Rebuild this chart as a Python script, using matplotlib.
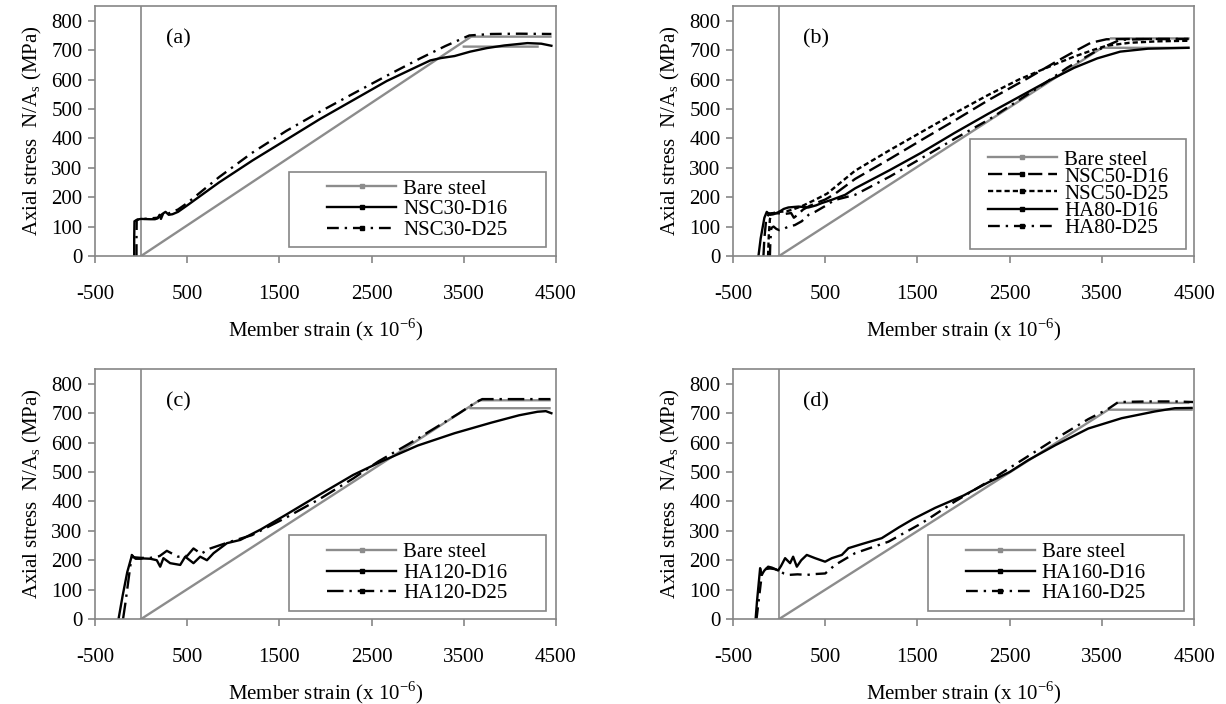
import numpy as np
import matplotlib
matplotlib.use("Agg")
import matplotlib.pyplot as plt
from matplotlib.lines import Line2D
from matplotlib.patches import Rectangle

# ─────────────────────────────────────────────
# data  (strain x 10^-6, axial stress MPa)
# ─────────────────────────────────────────────
nan = np.nan

# (a)
bare_a_x = [0, 3580, 4440, nan, 3500, 4300]
bare_a_y = [0, 746, 746, nan, 712, 712]
nsc30_d16_x = [-75, -75, -72, -40, 0, 100, 150, 180, 200, 215, 240, 265, 300, 340, 400, 500,
               845, 1209, 1573, 1936, 2300, 2664, 3000, 3136, 3250, 3400, 3570, 3750, 3940,
               4190, 4340, 4450]
nsc30_d16_y = [0, 60, 118, 124, 126, 125, 125, 128, 140, 126, 145, 150, 140, 142, 150, 172,
               250, 325, 395, 465, 530, 595, 645, 665, 673, 680, 695, 707, 716,
               724, 722, 715]
nsc30_d25_x = [-50, -50, -48, 0, 100, 180, 220, 260, 300, 400, 500, 845, 1200, 1573, 1936,
               2300, 2664, 3027, 3300, 3560, 3800, 4100, 4450]
nsc30_d25_y = [0, 60, 122, 125, 128, 130, 140, 150, 145, 158, 180, 268, 350, 425, 490,
               552, 613, 672, 714, 750, 755, 756, 755]

# (b)
bare_b_x = [0, 3500, 4440, nan, 3600, 4440]
bare_b_y = [0, 708, 708, nan, 740, 740]
nsc50_d16_x = [-170, -160, -140, -110, -60, 0, 60, 130, 160, 200, 260, 330, 400, 500, 600,
               824, 1200, 1547, 1900, 2270, 2700, 3000, 3200, 3380, 3550, 3800, 4100, 4440]
nsc50_d16_y = [0, 60, 125, 145, 145, 145, 143, 146, 130, 140, 158, 170, 180, 192, 210,
               262, 330, 395, 460, 530, 605, 660, 695, 725, 737, 738, 738, 738]
nsc50_d25_x = [-120, -112, -100, -80, 0, 80, 150, 250, 390, 520, 824, 1200, 1547, 1900,
               2270, 2600, 2992, 3200, 3400, 3550, 3800, 4100, 4440]
nsc50_d25_y = [0, 70, 125, 145, 150, 152, 158, 170, 191, 212, 290, 360, 422, 485,
               548, 600, 652, 678, 700, 715, 725, 730, 732]
ha80_d16_x = [-224, -200, -160, -134, -100, -60, 0, 50, 100, 210, 318, 400, 463, 571, 716,
              824, 1200, 1547, 1900, 2270, 2900, 3200, 3450, 3700, 4000, 4440]
ha80_d16_y = [0, 60, 130, 150, 140, 142, 150, 160, 165, 168, 165, 172, 180, 191, 208,
              230, 292, 352, 418, 484, 592, 640, 672, 695, 705, 708]
ha80_d25_x = [-100, -95, -85, -60, -30, 0, 50, 100, 170, 245, 320, 390, 500, 600, 824,
              1200, 1547, 1900, 2270, 2600, 2884, 3123, 3400, 3550, 3700, 4000, 4440]
ha80_d25_y = [0, 50, 95, 100, 92, 88, 92, 100, 105, 118, 140, 150, 170, 190, 208,
              270, 333, 398, 463, 530, 588, 640, 690, 715, 735, 738, 738]

# (c)
bare_c_x = [0, 3670, 4430, nan, 3573, 4430]
bare_c_y = [0, 744, 744, nan, 717, 717]
ha120_d16_x = [-245, -200, -150, -110, -95, -60, 0, 25, 100, 170, 207, 242, 315, 424, 478,
               568, 641, 714, 786, 931, 1076, 1300, 1573, 1946, 2300, 2600, 3000, 3400,
               3800, 4100, 4300, 4390, 4450]
ha120_d16_y = [0, 80, 160, 205, 215, 205, 205, 206, 205, 200, 178, 207, 190, 184, 212,
               190, 212, 200, 224, 258, 269, 305, 355, 425, 490, 535, 590, 632,
               668, 693, 705, 707, 700]
ha120_d25_x = [-196, -170, -130, -101, -80, 0, 100, 200, 279, 400, 500, 568, 650, 750, 967,
               1200, 1573, 1946, 2300, 2573, 2900, 3200, 3450, 3620, 3700, 4000, 4440]
ha120_d25_y = [0, 55, 150, 218, 210, 208, 208, 214, 232, 212, 215, 240, 222, 240, 263,
               285, 345, 410, 478, 536, 595, 652, 700, 735, 748, 748, 748]

# (d)
bare_d_x = [0, 3571, 4474, nan, 3679, 4438]
bare_d_y = [0, 712, 712, nan, 735, 735]
ha160_d16_x = [-255, -240, -206, -190, -160, -119, -80, -30, -11, 20, 65, 119, 152, 192,
               240, 300, 390, 499, 572, 680, 752, 897, 1113, 1300, 1453, 1692, 2000, 2270,
               2500, 2700, 3000, 3354, 3715, 4077, 4293, 4474]
ha160_d16_y = [0, 60, 173, 150, 165, 178, 175, 168, 165, 180, 207, 190, 212, 178,
               200, 218, 207, 195, 207, 218, 241, 255, 275, 312, 340, 378, 420, 465,
               500, 540, 592, 648, 683, 706, 717, 718]
ha160_d25_x = [-245, -200, -180, -150, -100, -50, 0, 50, 101, 200, 300, 390, 500, 607, 824,
               1186, 1547, 1908, 2270, 2631, 2992, 3354, 3571, 3679, 4000, 4300, 4490]
ha160_d25_y = [0, 120, 165, 170, 172, 170, 165, 155, 150, 152, 150, 153, 155, 184, 224,
               263, 326, 400, 468, 540, 612, 680, 715, 738, 740, 740, 738]

# ─────────────────────────────────────────────
# style
# ─────────────────────────────────────────────
plt.rcParams["font.family"] = ["Liberation Serif", "DejaVu Serif"]
plt.rcParams["mathtext.fontset"] = "custom"
plt.rcParams["mathtext.rm"] = "Liberation Serif"
plt.rcParams["axes.unicode_minus"] = False
FS = 15
GREY = "#8c8c8c"
FRAME = "#868686"

BARE = dict(color=GREY, lw=1.7, ls="-")
SOLID = dict(color="black", lw=1.7, ls="-")
DASHDOT = dict(color="black", lw=1.7, ls=(0, (5, 2.5, 1, 2.5)))
LONGDASH = dict(color="black", lw=1.7, ls=(0, (6, 2.5)))
SHORTDASH = dict(color="black", lw=1.7, ls=(0, (2.2, 1.3)))
LONGDASHDOT = dict(color="black", lw=1.7, ls=(0, (7, 2.5, 1, 2.5)))


def draw_panel(ax, tag, series, box):
    for x, y, label, style in series:
        ax.plot(x, y, **style)

    ax.axvline(0, color=FRAME, lw=1.2, zorder=1)
    ax.set_xlim(-500, 4500)
    ax.set_ylim(0, 850)
    ax.set_xticks(np.arange(-500, 4501, 1000))
    ax.set_yticks(np.arange(0, 801, 100))
    for sp in ax.spines.values():
        sp.set_color(FRAME)
        sp.set_linewidth(1.2)
    ax.tick_params(axis="both", direction="out", length=5, width=1.2, color=FRAME,
                   labelsize=FS)
    ax.tick_params(axis="x", pad=16)
    ax.tick_params(axis="y", pad=4)
    ax.set_xlabel(r"Member strain (x 10$^{\mathregular{-6}}$)", fontsize=FS, labelpad=9)
    ax.set_ylabel(r"Axial stress  N/A$_{\mathregular{s}}$ (MPa)", fontsize=FS, labelpad=5)
    ax.text(0.18, 0.87, tag, transform=ax.transAxes, fontsize=FS + 1,
            ha="center", va="center")

    # legend frame (Excel style, wider than its content)
    x0, y0, x1, y1 = box
    ax.add_patch(Rectangle((x0, y0), x1 - x0, y1 - y0, transform=ax.transAxes,
                           facecolor="white", edgecolor=FRAME, lw=1.2, zorder=4))
    handles = []
    for x, y, label, style in series:
        mcol = style["color"]
        handles.append(Line2D([], [], marker="s", ms=2.5, mfc=mcol, mec=mcol,
                              label=label, **style))
    nrow = len(handles)
    ax.legend(handles=handles, loc="center",
              bbox_to_anchor=((x0 + x1) / 2, (y0 + y1) / 2),
              frameon=False, fontsize=FS, handlelength=3.3, handletextpad=0.35,
              labelspacing=0.05 if nrow <= 3 else -0.12, borderpad=0,
              borderaxespad=0).set_zorder(5)


fig = plt.figure(figsize=(12.26, 7.04), dpi=100)
W, H = 0.376, 0.355
ax_a = fig.add_axes([0.0775, 0.6364, W, H])
ax_b = fig.add_axes([0.5979, 0.6364, W, H])
ax_c = fig.add_axes([0.0775, 0.1207, W, H])
ax_d = fig.add_axes([0.5979, 0.1207, W, H])

draw_panel(ax_a, "(a)", [
    (bare_a_x, bare_a_y, "Bare steel", BARE),
    (nsc30_d16_x, nsc30_d16_y, "NSC30-D16", SOLID),
    (nsc30_d25_x, nsc30_d25_y, "NSC30-D25", DASHDOT),
], (0.421, 0.036, 0.978, 0.336))

draw_panel(ax_b, "(b)", [
    (bare_b_x, bare_b_y, "Bare steel", BARE),
    (nsc50_d16_x, nsc50_d16_y, "NSC50-D16", LONGDASH),
    (nsc50_d25_x, nsc50_d25_y, "NSC50-D25", SHORTDASH),
    (ha80_d16_x, ha80_d16_y, "HA80-D16", SOLID),
    (ha80_d25_x, ha80_d25_y, "HA80-D25", DASHDOT),
], (0.514, 0.028, 0.983, 0.468))

draw_panel(ax_c, "(c)", [
    (bare_c_x, bare_c_y, "Bare steel", BARE),
    (ha120_d16_x, ha120_d16_y, "HA120-D16", SOLID),
    (ha120_d25_x, ha120_d25_y, "HA120-D25", LONGDASHDOT),
], (0.421, 0.032, 0.978, 0.336))

draw_panel(ax_d, "(d)", [
    (bare_d_x, bare_d_y, "Bare steel", BARE),
    (ha160_d16_x, ha160_d16_y, "HA160-D16", SOLID),
    (ha160_d25_x, ha160_d25_y, "HA160-D25", DASHDOT),
], (0.423, 0.032, 0.978, 0.336))

fig.savefig("out.png", dpi=100)
plt.close(fig)
